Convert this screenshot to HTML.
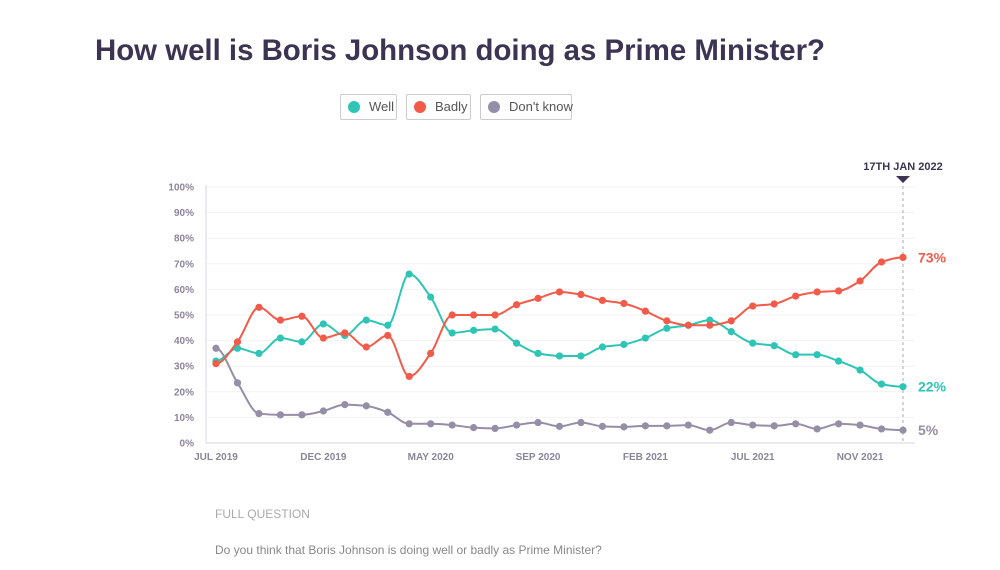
<!DOCTYPE html>
<html><head><meta charset="utf-8"><style>
body{margin:0;width:1000px;height:570px;background:#fff;font-family:"Liberation Sans",sans-serif;overflow:hidden;position:relative}
.title{position:absolute;left:95px;top:34px;font-size:29.4px;font-weight:bold;color:#3b3553;margin:0;white-space:nowrap}
.leg{position:absolute;top:94px;height:26px;border:1px solid #ccc;border-radius:2px;box-sizing:border-box;font-size:13px;color:#555;line-height:24px;padding-left:28px;white-space:nowrap}
.leg i{position:absolute;left:7px;top:6px;width:12px;height:12px;border-radius:50%}
.fq{position:absolute;left:215px;top:507px;font-size:12px;color:#aaa}
.q{position:absolute;left:215px;top:543px;font-size:12px;color:#888}
svg{position:absolute;left:0;top:0}
</style></head><body>
<h1 class="title">How well is Boris Johnson doing as Prime Minister?</h1>
<div class="leg" style="left:340px;width:57px"><i style="background:#2ec4b6"></i>Well</div>
<div class="leg" style="left:406px;width:65px"><i style="background:#f25a4a"></i>Badly</div>
<div class="leg" style="left:480px;width:92px"><i style="background:#958ea6"></i>Don't know</div>
<svg id="c" width="1000" height="570"></svg>
<div class="fq">FULL QUESTION</div>
<div class="q">Do you think that Boris Johnson is doing well or badly as Prime Minister?</div>
<script>
const wellVals=[32,37,35,41,39.5,46.5,42,48,46,66,57,43,44,44.5,39,35,34,34,37.5,38.5,41,44.8,46,48,43.5,39,38,34.5,34.5,32,28.5,23,22];
const badlyVals=[31,39.5,53,48,49.5,41,43,37.5,42,26,35,50,50,50,54,56.5,59,58,55.7,54.5,51.5,47.7,46,46,47.7,53.5,54.3,57.4,59,59.4,63.3,70.7,72.5];
const dkVals=[37,23.5,11.5,11,11,12.5,15,14.5,12,7.5,7.5,7,6,5.7,7,8,6.5,8,6.5,6.3,6.7,6.7,7,5,8,7,6.7,7.5,5.5,7.5,7,5.5,5];
const yTicks=[0,10,20,30,40,50,60,70,80,90,100];
const xLabels=["JUL 2019","DEC 2019","MAY 2020","SEP 2020","FEB 2021","JUL 2021","NOV 2021"];
const xLabelIdx=[0,5,10,15,20,25,30];
const endLabels=["73%","22%","5%"];
const svg=document.getElementById('c');const NS='http://www.w3.org/2000/svg';
const X0=216,X1=903,Y0=443,Y1=187;
const n=wellVals.length;
const x=i=>X0+(X1-X0)*i/(n-1);
const y=v=>Y0-(Y0-Y1)*v/100;
function mk(t,a){const e=document.createElementNS(NS,t);for(const k in a)e.setAttribute(k,a[k]);svg.appendChild(e);return e;}
yTicks.forEach(t=>{
 if(t>0){const g=mk('line',{x1:206,x2:915,y1:y(t),y2:y(t),stroke:'#f2f2f2'});
 
 }
 const l=mk('text',{x:194,y:y(t)+3.5,'text-anchor':'end','font-size':10,fill:'#8a8599','font-weight':'bold'});l.textContent=t+'%';
 
 
});
const ax=mk('path',{d:`M206 185V${Y0}H915`,stroke:'#d8d6e0',fill:'none'});


xLabels.forEach((s,k)=>{const t=mk('text',{x:x(xLabelIdx[k]),y:460,'text-anchor':'middle','font-size':10,fill:'#8a8599','font-weight':'bold'});t.textContent=s;
 
 });
const dl=mk('line',{x1:X1,x2:X1,y1:180,y2:Y0,stroke:'#aaa','stroke-dasharray':'3,3'});


const tri=mk('path',{d:`M${X1-7} 176H${X1+7}L${X1} 183Z`,fill:'#3b3553'});


const dt=mk('text',{x:X1,y:170,'text-anchor':'middle','font-size':11,'font-weight':'bold',fill:'#3b3553'});dt.textContent='17TH JAN 2022';


function path(vals){const p=vals.map((v,i)=>[x(i),y(v)]);let d=`M${p[0][0]} ${p[0][1]}`;
 const m=p.map((q,i)=>{if(i==0||i==p.length-1)return 0;const d1=(q[1]-p[i-1][1]),d2=(p[i+1][1]-q[1]);if(d1*d2<=0)return 0;return 2/(1/d1+1/d2)/(q[0]-p[i-1][0]);});
 for(let i=1;i<p.length;i++){const a=p[i-1],b=p[i],h=(b[0]-a[0])/3;d+=` C${a[0]+h} ${a[1]+m[i-1]*h} ${b[0]-h} ${b[1]-m[i]*h} ${b[0]} ${b[1]}`;}return d;}
[[dkVals,'#958ea6','dont-know'],[wellVals,'#2ec4b6','well'],[badlyVals,'#f25a4a','badly']].forEach(([vals,c,nm],si)=>{
 const l=mk('path',{d:path(vals),stroke:c,'stroke-width':2,fill:'none'});
 
 
 vals.forEach((v,i)=>{const d=mk('circle',{cx:x(i),cy:y(v),r:3.6,fill:c});
  
  });
 const e=mk('text',{x:918,y:y(vals[n-1])+5,'font-size':14,'font-weight':'bold',fill:c});e.textContent=endLabels[2-si];
 
 
});
</script>
</body></html>
